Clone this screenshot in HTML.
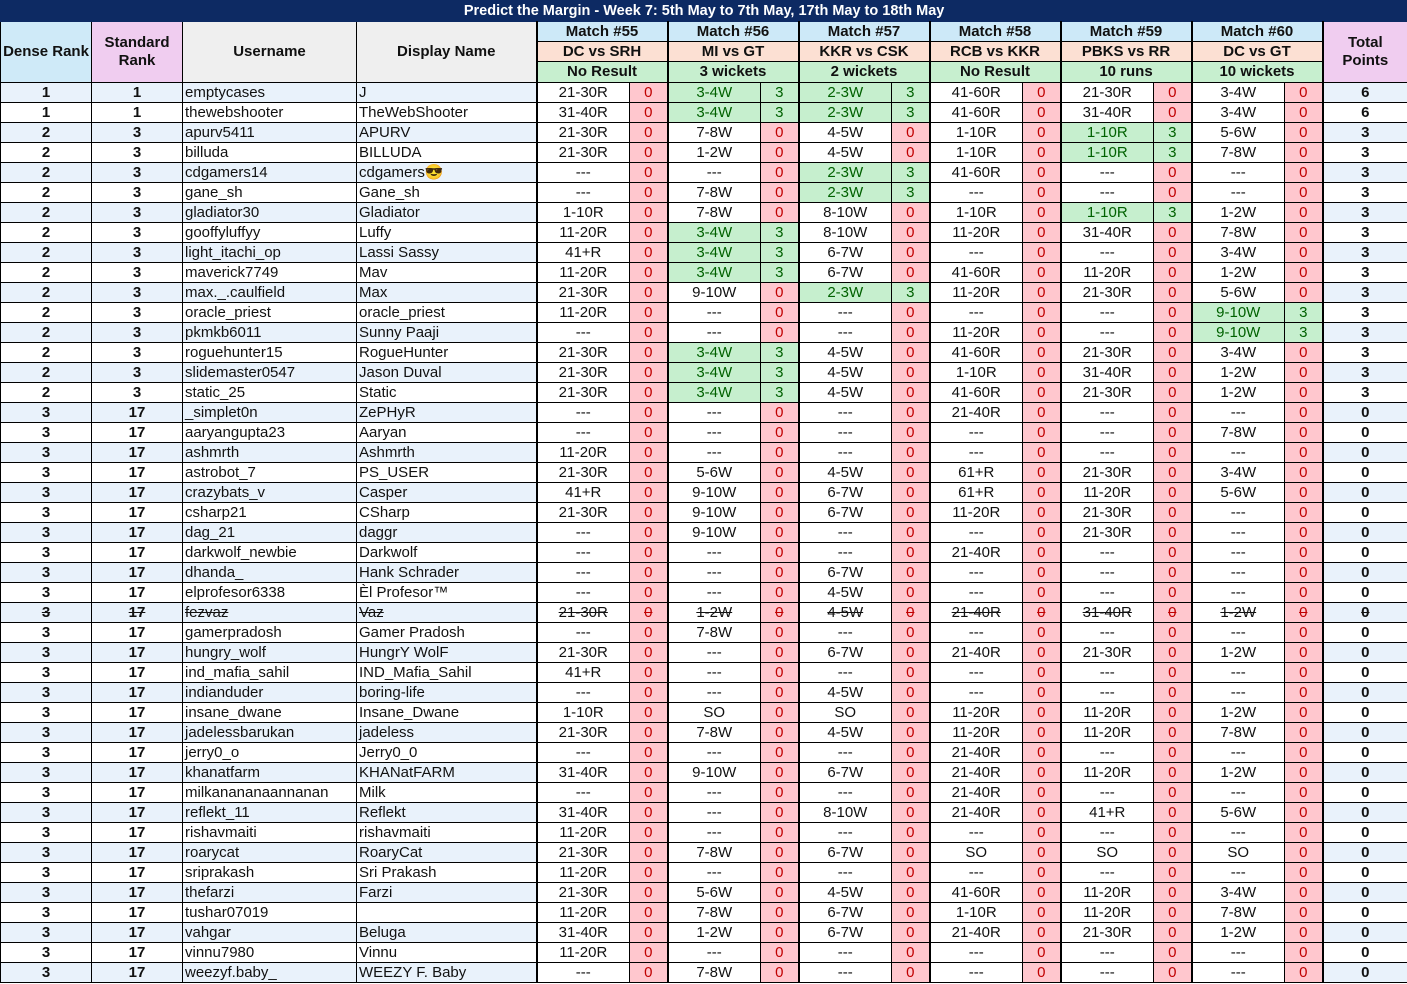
<!DOCTYPE html>
<html><head><meta charset="utf-8">
<style>
html,body{margin:0;padding:0;background:#fff;}
body{width:1407px;height:984px;overflow:hidden;font-family:"Liberation Sans",Arial,sans-serif;}
table{border-collapse:collapse;table-layout:fixed;width:1407px;}
td{border:1px solid #000;padding:0;font-size:15px;line-height:18px;white-space:nowrap;overflow:hidden;text-align:center;color:#111;}
.title td{background:#0d2a63;color:#fff;font-weight:bold;height:20px;border:1px solid #0d2a63;font-size:14.5px;}
.h td{font-weight:bold;font-size:15px;}
.dr{background:#cfeaf8;}
.sr{background:#f0cdf0;}
.gr{background:#efefef;}
.mh{background:#cde9f8;}
.th{background:#fce0d3;}
.rs{background:#c7efcf;}
tr.d td{height:19px;}
tr.d.band td.b{background:#e9f2fb;}
td.l{text-align:left;padding-left:2px;}
td.bold{font-weight:bold;}
td.z{background:#ffc7ce;color:#c00000;}
td.g{background:#c6efce;color:#006100;}
td.p{border-left:2px solid #000;}
tr.strike td{text-decoration:line-through;}
</style></head><body>
<table id="tbl">
<colgroup>
<col style="width:91px"><col style="width:91px"><col style="width:174px"><col style="width:180px">
<col style="width:93px"><col style="width:38px"><col style="width:93px"><col style="width:38px">
<col style="width:93px"><col style="width:38px"><col style="width:93px"><col style="width:38px">
<col style="width:93px"><col style="width:38px"><col style="width:93px"><col style="width:38px">
<col style="width:85px">
</colgroup>
<tr class="title"><td colspan="17">Predict the Margin - Week 7: 5th May to 7th May, 17th May to 18th May</td></tr>
<tr class="h" style="height:20px"><td rowspan="3" class="dr">Dense Rank</td><td rowspan="3" class="sr">Standard<br>Rank</td><td rowspan="3" class="gr">Username</td><td rowspan="3" class="gr">Display Name</td>
<td colspan="2" class="mh p">Match #55</td><td colspan="2" class="mh p">Match #56</td><td colspan="2" class="mh p">Match #57</td><td colspan="2" class="mh p">Match #58</td><td colspan="2" class="mh p">Match #59</td><td colspan="2" class="mh p">Match #60</td>
<td rowspan="3" class="sr p">Total<br>Points</td></tr>
<tr class="h" style="height:20px"><td colspan="2" class="th p">DC vs SRH</td><td colspan="2" class="th p">MI vs GT</td><td colspan="2" class="th p">KKR vs CSK</td><td colspan="2" class="th p">RCB vs KKR</td><td colspan="2" class="th p">PBKS vs RR</td><td colspan="2" class="th p">DC vs GT</td></tr>
<tr class="h" style="height:21px"><td colspan="2" class="rs p">No Result</td><td colspan="2" class="rs p">3 wickets</td><td colspan="2" class="rs p">2 wickets</td><td colspan="2" class="rs p">No Result</td><td colspan="2" class="rs p">10 runs</td><td colspan="2" class="rs p">10 wickets</td></tr>
</table>
<script>
const denseRanks=[1,1,2,2,2,2,2,2,2,2,2,2,2,2,2,2,3,3,3,3,3,3,3,3,3,3,3,3,3,3,3,3,3,3,3,3,3,3,3,3,3,3,3,3,3];
const stdRanks=[1,1,3,3,3,3,3,3,3,3,3,3,3,3,3,3,17,17,17,17,17,17,17,17,17,17,17,17,17,17,17,17,17,17,17,17,17,17,17,17,17,17,17,17,17];
const usernames=["emptycases","thewebshooter","apurv5411","billuda","cdgamers14","gane_sh","gladiator30","gooffyluffyy","light_itachi_op","maverick7749","max._.caulfield","oracle_priest","pkmkb6011","roguehunter15","slidemaster0547","static_25","_simplet0n","aaryangupta23","ashmrth","astrobot_7","crazybats_v","csharp21","dag_21","darkwolf_newbie","dhanda_","elprofesor6338","fezvaz","gamerpradosh","hungry_wolf","ind_mafia_sahil","indianduder","insane_dwane","jadelessbarukan","jerry0_o","khanatfarm","milkanananaannanan","reflekt_11","rishavmaiti","roarycat","sriprakash","thefarzi","tushar07019","vahgar","vinnu7980","weezyf.baby_"];
const displayNames=["J","TheWebShooter","APURV","BILLUDA","cdgamers😎","Gane_sh","Gladiator","Luffy","Lassi Sassy","Mav","Max","oracle_priest","Sunny Paaji","RogueHunter","Jason Duval","Static","ZePHyR","Aaryan","Ashmrth","PS_USER","Casper","CSharp","daggr","Darkwolf","Hank Schrader","Èl Profesor™","Vaz","Gamer Pradosh","HungrY WolF","IND_Mafia_Sahil","boring-life","Insane_Dwane","jadeless","Jerry0_0","KHANatFARM","Milk","Reflekt","rishavmaiti","RoaryCat","Sri Prakash","Farzi","","Beluga","Vinnu","WEEZY F. Baby"];
const predictions=[
"21-30R|3-4W|2-3W|41-60R|21-30R|3-4W","31-40R|3-4W|2-3W|41-60R|31-40R|3-4W","21-30R|7-8W|4-5W|1-10R|1-10R|5-6W","21-30R|1-2W|4-5W|1-10R|1-10R|7-8W","---|---|2-3W|41-60R|---|---","---|7-8W|2-3W|---|---|---","1-10R|7-8W|8-10W|1-10R|1-10R|1-2W","11-20R|3-4W|8-10W|11-20R|31-40R|7-8W","41+R|3-4W|6-7W|---|---|3-4W","11-20R|3-4W|6-7W|41-60R|11-20R|1-2W","21-30R|9-10W|2-3W|11-20R|21-30R|5-6W","11-20R|---|---|---|---|9-10W","---|---|---|11-20R|---|9-10W","21-30R|3-4W|4-5W|41-60R|21-30R|3-4W","21-30R|3-4W|4-5W|1-10R|31-40R|1-2W","21-30R|3-4W|4-5W|41-60R|21-30R|1-2W",
"---|---|---|21-40R|---|---","---|---|---|---|---|7-8W","11-20R|---|---|---|---|---","21-30R|5-6W|4-5W|61+R|21-30R|3-4W","41+R|9-10W|6-7W|61+R|11-20R|5-6W","21-30R|9-10W|6-7W|11-20R|21-30R|---","---|9-10W|---|---|21-30R|---","---|---|---|21-40R|---|---","---|---|6-7W|---|---|---","---|---|4-5W|---|---|---","21-30R|1-2W|4-5W|21-40R|31-40R|1-2W","---|7-8W|---|---|---|---","21-30R|---|6-7W|21-40R|21-30R|1-2W","41+R|---|---|---|---|---","---|---|4-5W|---|---|---","1-10R|SO|SO|11-20R|11-20R|1-2W","21-30R|7-8W|4-5W|11-20R|11-20R|7-8W","---|---|---|21-40R|---|---","31-40R|9-10W|6-7W|21-40R|11-20R|1-2W","---|---|---|21-40R|---|---","31-40R|---|8-10W|21-40R|41+R|5-6W","11-20R|---|---|---|---|---","21-30R|7-8W|6-7W|SO|SO|SO","11-20R|---|---|---|---|---","21-30R|5-6W|4-5W|41-60R|11-20R|3-4W","11-20R|7-8W|6-7W|1-10R|11-20R|7-8W","31-40R|1-2W|6-7W|21-40R|21-30R|1-2W","11-20R|---|---|---|---|---","---|7-8W|---|---|---|---"];
const matchPoints=["033000","033000","000030","000030","003000","003000","000030","030000","030000","030000","003000","000003","000003","030000","030000","030000","000000","000000","000000","000000","000000","000000","000000","000000","000000","000000","000000","000000","000000","000000","000000","000000","000000","000000","000000","000000","000000","000000","000000","000000","000000","000000","000000","000000","000000"];
const totals=[6,6,3,3,3,3,3,3,3,3,3,3,3,3,3,3,0,0,0,0,0,0,0,0,0,0,0,0,0,0,0,0,0,0,0,0,0,0,0,0,0,0,0,0,0];
const struck=[26];
const tbl=document.getElementById('tbl');
function mk(tr,txt,cls){const td=document.createElement('td');td.textContent=txt;td.className=cls;tr.appendChild(td);return td;}
for(let i=0;i<usernames.length;i++){
  const tr=document.createElement('tr');
  tr.className='d'+(i%2===0?' band':'')+(struck.includes(i)?' strike':'');
  
  
  let c=mk(tr,denseRanks[i],'b bold');
  
  
  c=mk(tr,stdRanks[i],'b bold');
  
  
  c=mk(tr,usernames[i],'b l');
  
  
  c=mk(tr,displayNames[i],'b l');
  
  
  const pr=predictions[i].split('|');
  for(let m=0;m<6;m++){
    const pt=matchPoints[i][m];
    c=mk(tr,pr[m],'p'+(pt==='3'?' g':''));
    
    
    c=mk(tr,pt,pt==='3'?'g':'z');
    
    
  }
  c=mk(tr,totals[i],'b bold p');
  
  
  tbl.appendChild(tr);
}
</script>
</body></html>
